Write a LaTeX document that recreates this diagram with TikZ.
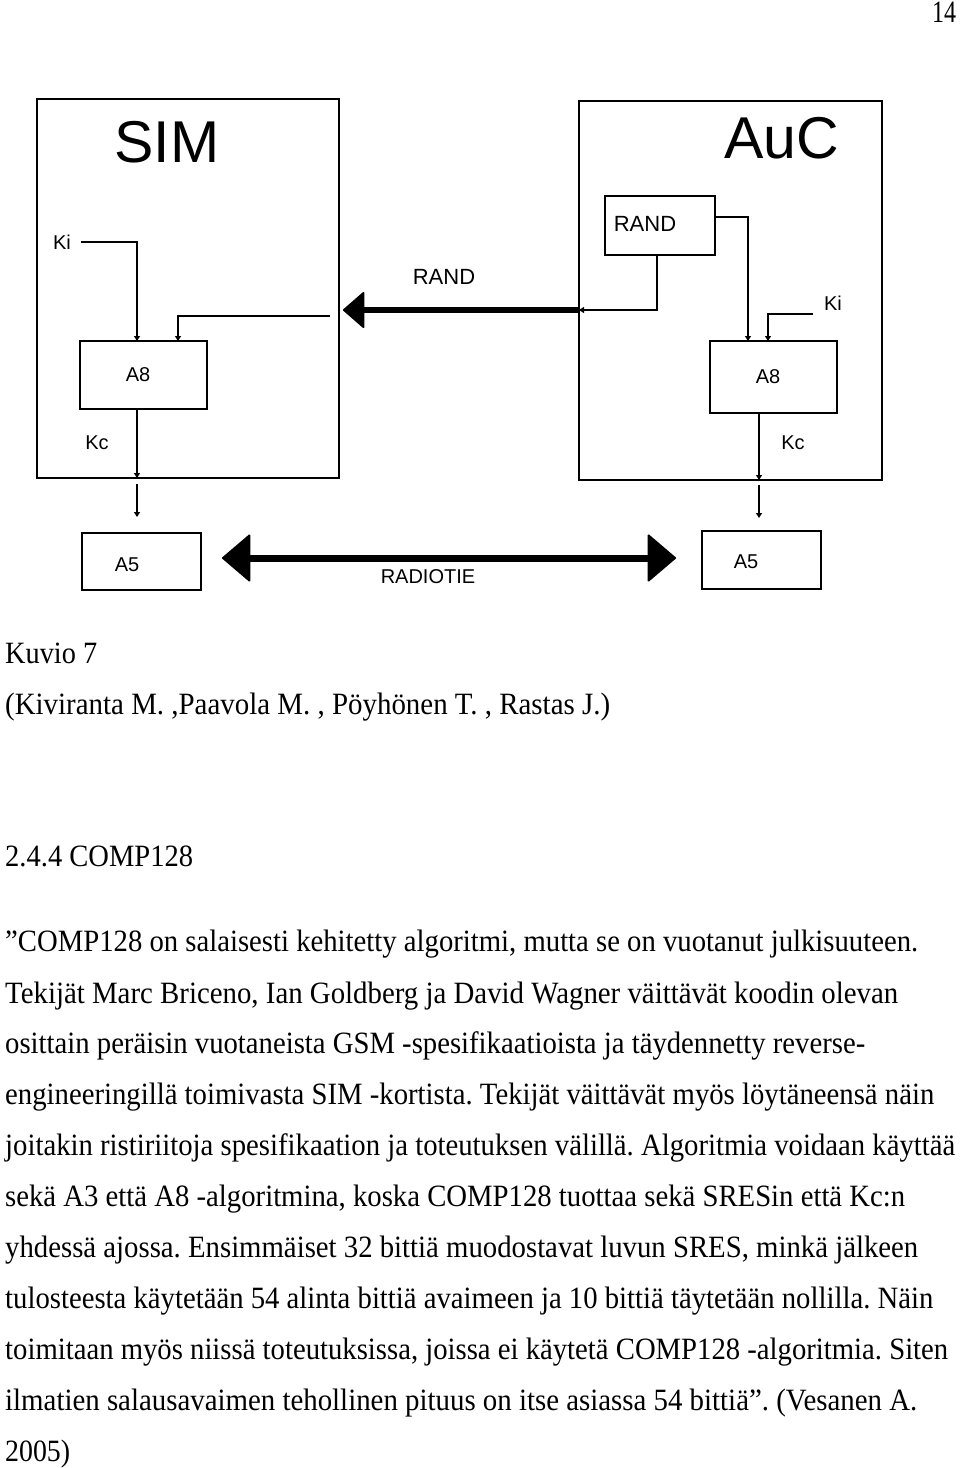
\documentclass[tikz,border=0pt]{standalone}
\usepackage{graphicx}
\usepackage{fontspec}
\setmainfont{Liberation Serif}
\newfontfamily\diagfont{Liberation Sans}
\usetikzlibrary{arrows.meta}
\frenchspacing
\newsavebox\fitbox
\newcommand\fitw[2]{\sbox\fitbox{#2}\pgfmathsetmacro\fitr{#1/\wd\fitbox}\scalebox{\fitr}[1]{\usebox\fitbox}}
\tikzset{
  frame/.style={draw, line width=1.6, inner sep=0, outer sep=0},
  lbl/.style={font=\diagfont\fontsize{20}{24}\selectfont, inner sep=0},
  biglbl/.style={font=\diagfont\fontsize{59}{64}\selectfont, inner sep=0},
  arr/.style={line width=1.3, -{Triangle[width=6pt,length=5pt]}},
  bigarr/.style={line width=5.5, -{Triangle[length=22pt,width=38pt,round,line width=2pt]}},
  bigboth/.style={line width=7, {Triangle[length=29pt,width=49pt,round,line width=2pt]}-{Triangle[length=29pt,width=49pt,round,line width=2pt]}},
  bodytext/.style={anchor=base west, inner sep=0, font=\fontsize{31}{36}\selectfont},
}
\begin{document}
\begin{tikzpicture}[x=1pt,y=-1pt]
\useasboundingbox[fill=white] (0,0) rectangle (960,1468);
% page number
\node[bodytext] (pnum) at (932,22) {\fitw{24}{14}};
% main frames
\node[frame, minimum width=302, minimum height=379] (sim) at (188,288.5) {};
\node[frame, minimum width=303, minimum height=379] (auc) at (730.5,290.5) {};
\node[biglbl] (simlbl) at (167,142) {SIM};
\node[biglbl] (auclbl) at (782,138) {AuC};
% SIM inner
\node[frame, minimum width=127, minimum height=68] (a8s) at (143.5,375) {};
\node[frame, minimum width=119, minimum height=57] (a5s) at (141.5,561.5) {};
\node[lbl] (a8slbl) at (138,375) {A8};
\node[lbl] (a5slbl) at (127,565) {A5};
\node[lbl] (kis) at (62,242) {Ki};
\node[lbl] (kcs) at (97,443) {Kc};
% AuC inner
\node[frame, minimum width=110, minimum height=59] (randbox) at (660,225.5) {};
\node[frame, minimum width=127, minimum height=72] (a8a) at (773.5,377) {};
\node[frame, minimum width=119, minimum height=58] (a5a) at (761.5,560) {};
\node[lbl, font=\diagfont\fontsize{22}{26}\selectfont] (randboxlbl) at (645,224) {RAND};
\node[lbl] (a8albl) at (768,377) {A8};
\node[lbl] (a5albl) at (746,562) {A5};
\node[lbl] (kia) at (833,303) {Ki};
\node[lbl] (kca) at (793,443) {Kc};
% middle labels
\node[lbl, font=\diagfont\fontsize{22}{26}\selectfont] (randlbl) at (444,277) {RAND};
\node[lbl] (radiolbl) at (428,577) {RADIOTIE};
% coordinates
\coordinate (cRand) at (579,310);
\coordinate (randS) at (330,316);
\coordinate (cRadio) at (0,558);
% SIM connectors
\draw[arr] ([xshift=10]kis.east) -| ([xshift=-6.5]a8s.north);
\draw[arr] (randS) -| ([xshift=34.5]a8s.north);
\draw[arr] ([xshift=-6.5]a8s.south) -- ([xshift=-6.5]a8s.south |- sim.south);
\draw[arr] ([xshift=-6.5,yshift=-6]a8s.south |- sim.south) -- ([xshift=-4.5,yshift=16]a5s.north);
% AuC connectors
\draw[arr] ([yshift=8.5]randbox.east) -| ([xshift=-25.5]a8a.north);
\draw[arr] ([xshift=-3]randbox.south) |- (auc.west |- cRand);
\draw[arr] ([xshift=-11,yshift=-11]kia.west) -| ([xshift=-5.5]a8a.north);
\draw[arr] ([xshift=-14.5]a8a.south) -- ([xshift=-14.5]a8a.south |- auc.south);
\draw[arr] ([xshift=-14.5,yshift=-5]a8a.south |- auc.south) -- ([xshift=-2.5,yshift=13]a5a.north);
% thick arrows
\draw[bigarr] ([xshift=-1]auc.west |- cRand) -- ([xshift=4]sim.east |- cRand);
\draw[bigboth] ([xshift=21]a5s.east |- cRadio) -- ([xshift=-26]a5a.west |- cRadio);
% text
\node[bodytext] (t1) at (5,663) {\fitw{92}{Kuvio 7}};
\node[bodytext] (t2) at (5,714) {\fitw{605}{(Kiviranta M. ,Paavola M. , Pöyhönen T. , Rastas J.)}};
\node[bodytext] (t3) at (5,866) {\fitw{188}{2.4.4 COMP128}};
\node[bodytext] (t4) at (5,951) {\fitw{913}{”COMP128 on salaisesti kehitetty algoritmi, mutta se on vuotanut julkisuuteen.}};
\node[bodytext] (t5) at (5,1003) {\fitw{893}{Tekijät Marc Briceno, Ian Goldberg ja David Wagner väittävät koodin olevan}};
\node[bodytext] (t6) at (5,1053) {\fitw{860}{osittain peräisin vuotaneista GSM -spesifikaatioista ja täydennetty reverse-}};
\node[bodytext] (t7) at (5,1104) {\fitw{929}{engineeringillä toimivasta SIM -kortista. Tekijät väittävät myös löytäneensä näin}};
\node[bodytext] (t8) at (5,1155) {\fitw{950}{joitakin ristiriitoja spesifikaation ja toteutuksen välillä. Algoritmia voidaan käyttää}};
\node[bodytext] (t9) at (5,1206) {\fitw{900}{sekä A3 että A8 -algoritmina, koska COMP128 tuottaa sekä SRESin että Kc:n}};
\node[bodytext] (t10) at (5,1257) {\fitw{913}{yhdessä ajossa. Ensimmäiset 32 bittiä muodostavat luvun SRES, minkä jälkeen}};
\node[bodytext] (t11) at (5,1308) {\fitw{928}{tulosteesta käytetään 54 alinta bittiä avaimeen ja 10 bittiä täytetään nollilla. Näin}};
\node[bodytext] (t12) at (5,1359) {\fitw{943}{toimitaan myös niissä toteutuksissa, joissa ei käytetä COMP128 -algoritmia. Siten}};
\node[bodytext] (t13) at (5,1410) {\fitw{912}{ilmatien salausavaimen tehollinen pituus on itse asiassa 54 bittiä”. (Vesanen A.}};
\node[bodytext] (t14) at (5,1461) {\fitw{65}{2005)}};
\end{tikzpicture}
\end{document}
